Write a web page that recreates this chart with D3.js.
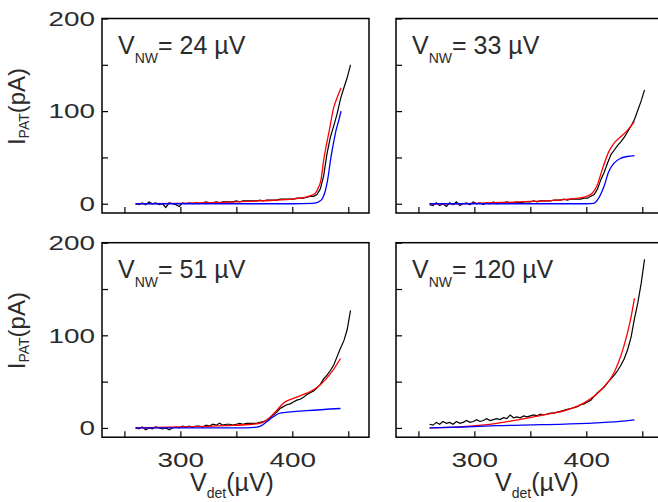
<!DOCTYPE html>
<html>
<head>
<meta charset="utf-8">
<script src="https://cdn.jsdelivr.net/npm/d3@7"></script>
<style>
  body { margin: 0; background: #fff; }
  text { font-family: "Liberation Sans", Arial, sans-serif; fill: #2b2b2b; }
</style>
</head>
<body>
<svg id="chart" width="658" height="502"></svg>
<script>
// ---- data ----
const vnwLabels = ["24", "33", "51", "120"];
const xTicks = [250, 300, 350, 400, 450];
const xTickLabels = [300, 400];
const yTicks = [0, 50, 100, 150, 200];
const yTickLabels = [0, 100, 200];

// measured traces are sampled every 3 µV from 260 to 452 µV
const vdetGrid = d3.range(260, 453, 3);

const measured24 = [0, -1, 1, -1, 2, 0, 1, -1, 0, -4,
  1, 0, -1, -3, 1, 0, 1, 0, 1, 0,
  1, 2, 1, 1, 2, 1, 2, 2, 2, 2,
  3, 2, 3, 3, 3, 3, 3, 4, 3, 4,
  4, 4, 4, 5, 5, 5, 5, 5, 6, 6,
  6, 7, 8, 8, 10, 16, 30, 54, 72, 84,
  97, 113, 125, 136, 150];
const measured33 = [-1, -2, 1, -2, 0, -3, 1, -1, 2, -2,
  0, 1, -1, 2, 0, 1, -1, 1, 0, 2,
  0, 1, 1, 2, 1, 1, 2, 1, 2, 2,
  2, 3, 2, 3, 3, 3, 3, 4, 4, 4,
  5, 4, 5, 5, 5, 5, 6, 6, 8, 10,
  16, 26, 34, 44, 53, 58, 63, 67, 72, 78,
  84, 91, 101, 111, 123];
const measured51 = [0, -1, 1, -2, 0, -1, 1, 0, -1, 0,
  -2, 0, 1, 0, 2, 1, 2, 1, 2, 2,
  1, 3, 2, 4, 3, 5, 3, 4, 4, 3,
  4, 5, 4, 5, 5, 5, 5, 6, 7, 8,
  11, 14, 17, 21, 23, 25, 26, 28, 30, 31,
  33, 36, 38, 40, 43, 47, 53, 57, 62, 68,
  77, 86, 94, 106, 127];
const measured120 = [4, 3, 6, 4, 7, 5, 6, 4, 7, 5,
  6, 8, 6, 7, 9, 7, 8, 10, 8, 9,
  10, 9, 11, 10, 14, 11, 12, 11, 13, 12,
  13, 14, 13, 15, 14, 15, 16, 16, 17, 18,
  19, 20, 21, 22, 23, 25, 26, 28, 30, 34,
  38, 41, 44, 49, 53, 57, 62, 68, 75, 85,
  98, 118, 135, 156, 182];

// model curves [V_det, I_PAT]
const fitRed24 = [[260, 0], [300, 0.5], [350, 2], [380, 3.5], [400, 5], [413, 7.5], [418, 9.5],
  [421, 12], [423.5, 18], [425.5, 25], [428, 47], [433, 79], [437, 104], [440.5, 116], [443.5, 125]];
const fitBlue24 = [[260, 0], [400, 0], [418, 0.3], [421, 0.8], [424, 2.5], [427, 6], [429.5, 14],
  [431.5, 25.5], [434.5, 50], [437, 67], [439, 79], [441.5, 90], [443.5, 100]];
const fitRed33 = [[260, 0], [300, 0.5], [350, 2.5], [380, 4.5], [399, 7.5], [405, 11], [409.7, 20],
  [414, 36], [420, 56], [424.5, 65], [430.5, 72], [436.5, 79], [443, 89]];
const fitBlue33 = [[260, 0], [400, 0], [406.6, 0.5], [411, 6], [415.6, 18], [420, 34.5],
  [424.5, 43.5], [430.5, 49], [436.5, 51], [443, 52]];
const fitRed51 = [[260, 0], [300, 1], [340, 2.5], [365, 4], [373, 5.7], [379, 10.5], [386.5, 19.5],
  [392, 26.7], [401, 32], [413, 37.5], [425, 46.5], [435.6, 61], [443, 75]];
const fitBlue51 = [[260, 0], [360, 0], [365.5, 0.5], [371.5, 2], [377.5, 7], [383, 12], [389, 16],
  [413, 18.7], [443, 21]];
const fitRed120 = [[260, 0], [290, 1.5], [320, 5], [340, 9], [362, 14], [383, 19.5], [398, 27],
  [413, 41], [424.5, 59], [433.5, 88], [439.5, 117], [443, 140]];
const fitBlue120 = [[260, 0], [290, 1], [320, 2.5], [360, 3.5], [400, 5], [430, 7], [443, 8.6]];

// ---- layout ----
const W = 267, H = 194.5;
const panels = [
  { vnw: vnwLabels[0], meas: measured24, red: fitRed24, blue: fitBlue24, left: 102, top: 18.5, yLab: true, xLab: false },
  { vnw: vnwLabels[1], meas: measured33, red: fitRed33, blue: fitBlue33, left: 396, top: 18.5, yLab: false, xLab: false },
  { vnw: vnwLabels[2], meas: measured51, red: fitRed51, blue: fitBlue51, left: 102, top: 242.7, yLab: true, xLab: true, titleX: 130 },
  { vnw: vnwLabels[3], meas: measured120, red: fitRed120, blue: fitBlue120, left: 396, top: 242.7, yLab: false, xLab: true, titleX: 141 }
];

const svg = d3.select("#chart");
const x = d3.scaleLinear().domain([230, 468.5]).range([0, W]);
const y = d3.scaleLinear().domain([-10, 200]).range([H, 0]);

function stretchDigits(sel) {
  // tick digits in the figure are drawn wide
  sel.selectAll(".tick text")
    .filter(function () { return this.textContent !== ""; })
    .attr("textLength", function () { return this.textContent.length * 15.5; })
    .attr("lengthAdjust", "spacingAndGlyphs");
}

panels.forEach(p => {
  const g = svg.append("g").attr("transform", `translate(${p.left},${p.top})`);

  const xAxis = d3.axisBottom(x).tickValues(xTicks).tickSize(-6).tickPadding(15)
    .tickFormat(d => (p.xLab && xTickLabels.includes(d)) ? d : "");
  g.append("g").attr("transform", `translate(0,${H})`).call(xAxis)
    .call(s => s.select(".domain").remove())
    .call(s => s.selectAll(".tick line").attr("stroke", "#000").attr("stroke-width", 1.2))
    .call(s => s.selectAll("text").attr("font-size", 21).attr("font-family", null).attr("fill", "#2b2b2b"))
    .call(stretchDigits);

  const yAxis = d3.axisLeft(y).tickValues(yTicks).tickSize(-6).tickPadding(7)
    .tickFormat(d => (p.yLab && yTickLabels.includes(d)) ? d : "");
  g.append("g").call(yAxis)
    .call(s => s.select(".domain").remove())
    .call(s => s.selectAll(".tick line").attr("stroke", "#000").attr("stroke-width", 1.2))
    .call(s => s.selectAll("text").attr("font-size", 21).attr("font-family", null).attr("fill", "#2b2b2b"))
    .call(stretchDigits);

  const measLine = d3.line().x((d, i) => x(vdetGrid[i])).y(d => y(d));
  const fitLine = d3.line().x(d => x(d[0])).y(d => y(d[1])).curve(d3.curveMonotoneX);

  g.append("path").datum(p.meas).attr("d", measLine)
    .attr("fill", "none").attr("stroke", "#000").attr("stroke-width", 1.2);
  g.append("path").datum(p.red).attr("d", fitLine)
    .attr("fill", "none").attr("stroke", "#ff0000").attr("stroke-width", 1.3);
  g.append("path").datum(p.blue).attr("d", fitLine)
    .attr("fill", "none").attr("stroke", "#0000ff").attr("stroke-width", 1.3);

  g.append("rect").attr("width", W).attr("height", H)
    .attr("fill", "none").attr("stroke", "#000").attr("stroke-width", 1.5);

  const lab = g.append("text").attr("x", 16).attr("y", 35).attr("font-size", 25);
  lab.append("tspan").text("V");
  lab.append("tspan").attr("font-size", 14).attr("dy", 9).text("NW");
  lab.append("tspan").attr("dy", -9).text("= " + p.vnw + " µV");

  if (p.yLab) {
    const t = svg.append("text")
      .attr("transform", `translate(25,${p.top + 88}) rotate(-90)`)
      .attr("text-anchor", "middle").attr("font-size", 24);
    t.append("tspan").text("I");
    t.append("tspan").attr("font-size", 14).attr("dy", 4).text("PAT");
    t.append("tspan").attr("dy", -4).text("(pA)");
  }
  if (p.xLab) {
    const t = svg.append("text")
      .attr("x", p.left + p.titleX).attr("y", 491)
      .attr("text-anchor", "middle").attr("font-size", 25);
    t.append("tspan").text("V");
    t.append("tspan").attr("font-size", 14).attr("dy", 7).text("det");
    t.append("tspan").attr("dy", -7).text("(µV)");
  }
});
</script>
</body>
</html>
